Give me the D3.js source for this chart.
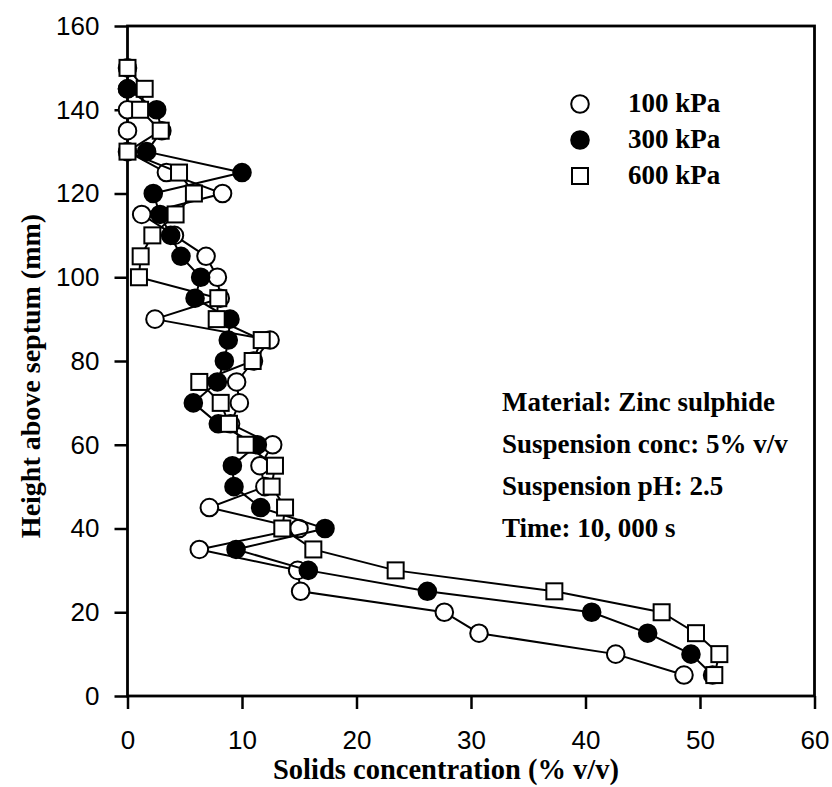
<!DOCTYPE html>
<html><head><meta charset="utf-8">
<script src="https://cdn.jsdelivr.net/npm/d3@7"></script>
<style>html,body{margin:0;padding:0;background:#fff;}</style>
</head><body>
<svg id="chart" width="832" height="787"></svg>
<script>
const heights = [150,145,140,135,130,125,120,115,110,105,100,95,90,85,80,75,70,65,60,55,50,45,40,35,30,25,20,15,10,5];
const conc100 = [0,0,0,0,0,3.4,8.3,1.24,4.1,6.86,7.85,8.1,2.4,12.45,11.0,9.53,9.77,9.0,12.68,11.57,12.0,7.15,14.98,6.27,14.86,15.12,27.67,30.7,42.64,48.6];
const conc300 = [null,0,2.55,3.0,1.67,10.0,2.25,2.84,3.77,4.67,6.39,5.9,8.95,8.8,8.46,7.85,5.75,7.93,11.34,9.16,9.3,11.63,17.25,9.48,15.79,26.19,40.54,45.43,49.21,51.1];
const conc600 = [0,1.5,1.1,2.9,0,4.5,5.8,4.2,2.17,1.15,1.0,7.93,7.79,11.72,10.93,6.27,8.14,8.86,10.32,12.88,12.59,13.76,13.52,16.23,23.42,37.28,46.65,49.65,51.69,51.25];
const seriesNames = ["100 kPa","300 kPa","600 kPa"];
const xTicks = [0,10,20,30,40,50,60];
const yTicks = [0,20,40,60,80,100,120,140,160];
const notes = ["Material: Zinc sulphide","Suspension conc: 5% v/v","Suspension pH: 2.5","Time: 10, 000 s"];
const xTitle = "Solids concentration (% v/v)";
const yTitle = "Height above septum (mm)";

const svg = d3.select("#chart");
const x = d3.scaleLinear().domain([0,60]).range([127.5,814.5]);
const y = d3.scaleLinear().domain([0,160]).range([696,26]);
const serif = "'Liberation Serif','Times New Roman',serif";
const sans = "'Liberation Sans',Arial,sans-serif";

// frame
svg.append("rect").attr("x",x(0)).attr("y",y(160)).attr("width",x(60)-x(0)).attr("height",y(0)-y(160))
  .attr("fill","none").attr("stroke","#000").attr("stroke-width",2.8);

// axes
const xAxis = d3.axisBottom(x).tickValues(xTicks).tickSize(13).tickPadding(22).tickFormat(d3.format("d"));
const gx = svg.append("g").attr("transform",`translate(0,${y(0)})`).call(xAxis);
gx.select(".domain").remove();
gx.selectAll(".tick line").attr("stroke","#000").attr("stroke-width",2.5);
gx.selectAll(".tick text").attr("font-family",sans).attr("font-size",26).attr("fill","#000");

const yAxis = d3.axisLeft(y).tickValues(yTicks).tickSize(13).tickPadding(15).tickFormat(d3.format("d"));
const gy = svg.append("g").attr("transform",`translate(${x(0)},0)`).call(yAxis);
gy.select(".domain").remove();
gy.selectAll(".tick line").attr("stroke","#000").attr("stroke-width",2.5);
gy.selectAll(".tick text").attr("font-family",sans).attr("font-size",26).attr("fill","#000");

// titles
svg.append("text").attr("x",446).attr("y",779).attr("text-anchor","middle")
  .attr("font-family",serif).attr("font-weight","bold").attr("font-size",28.5).text(xTitle);
svg.append("text").attr("transform","translate(40,376) rotate(-90)").attr("text-anchor","middle")
  .attr("font-family",serif).attr("font-weight","bold").attr("font-size",28).text(yTitle);

// series
const allSeries = [conc100, conc300, conc600];
const kinds = ["open","filled","square"];
function drawMarker(g, kind, cx, cy){
  if(kind==="square"){
    g.append("rect").attr("x",cx-8).attr("y",cy-8).attr("width",16).attr("height",16)
      .attr("fill","#fff").attr("stroke","#000").attr("stroke-width",2);
  } else {
    g.append("circle").attr("cx",cx).attr("cy",cy).attr("r",8.8)
      .attr("fill",kind==="filled"?"#000":"#fff").attr("stroke","#000").attr("stroke-width",2);
  }
}
const line = d3.line().defined(d=>d.c!=null).x(d=>x(d.c)).y(d=>y(d.h));
allSeries.forEach((vals,i)=>{
  const pts = heights.map((h,j)=>({h:h,c:vals[j]}));
  const g = svg.append("g");
  g.append("path").datum(pts).attr("d",line).attr("fill","none").attr("stroke","#000").attr("stroke-width",2);
  pts.filter(p=>p.c!=null).forEach(p=>drawMarker(g,kinds[i],x(p.c),y(p.h)));
});

// legend
seriesNames.forEach((name,i)=>{
  const cy = 104 + i*36;
  const g = svg.append("g");
  drawMarker(g,kinds[i],580,cy);
  g.append("text").attr("x",628).attr("y",cy+8).attr("font-family",serif).attr("font-weight","bold")
    .attr("font-size",27).text(name);
});

// notes
notes.forEach((t,i)=>{
  svg.append("text").attr("x",502).attr("y",411+i*42).attr("font-family",serif).attr("font-weight","bold")
    .attr("font-size",27).text(t);
});
</script>
</body></html>
